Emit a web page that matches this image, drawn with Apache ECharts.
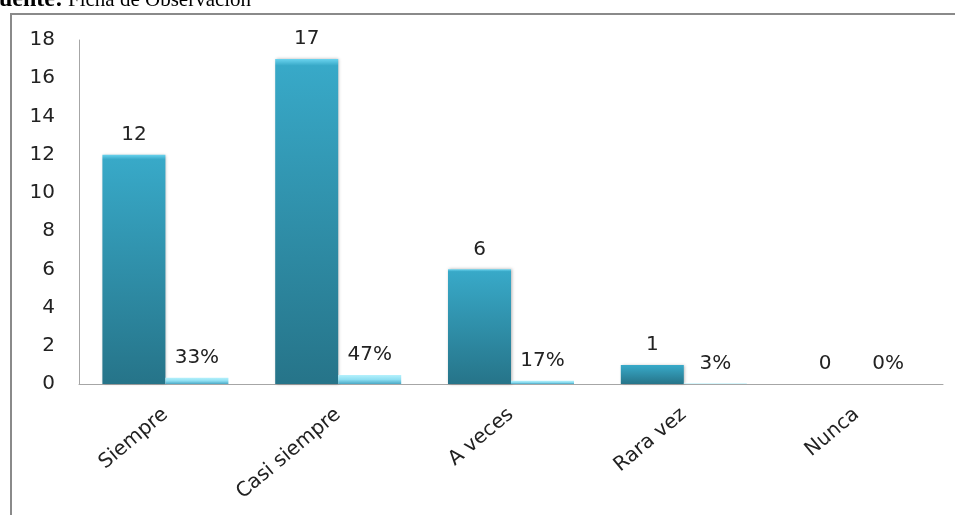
<!DOCTYPE html>
<html>
<head>
<meta charset="utf-8">
<script src="https://cdn.jsdelivr.net/npm/echarts@6/dist/echarts.min.js"></script>
<style>html,body{margin:0;padding:0;background:#fff}#c{width:955px;height:515px}</style>
</head>
<body>
<div id="c"></div>
<script>
const categories = ['Siempre', 'Casi siempre', 'A veces', 'Rara vez', 'Nunca'];
const frecuencia = [12, 17, 6, 1, 0];
const porcentaje = [0.33, 0.47, 0.17, 0.03, 0];
const yTicks = { min: 0, max: 18, interval: 2 };

const chart = echarts.init(document.getElementById('c'));
const font = '"DejaVu Sans", "Open Sans", sans-serif';
const serif = '"Liberation Serif", "Times New Roman", serif';
chart.setOption({
  animation: false,
  backgroundColor: '#fff',
  graphic: [
    { type: 'rect', shape: { x: 11, y: 14, width: 980, height: 540 }, style: { fill: 'none', stroke: '#8a8a8a', lineWidth: 2 }, z: 100 },
    { type: 'text', x: 63, y: 12, style: { text: 'Fuente:', font: 'bold 24px ' + serif, fill: '#000', align: 'right', verticalAlign: 'bottom' }, z: 100 },
    { type: 'text', x: 68, y: 11, style: { text: 'Ficha de Observación', font: '21px ' + serif, fill: '#000', align: 'left', verticalAlign: 'bottom' }, z: 100 }
  ],
  grid: { left: 79, right: 12, top: 40, bottom: 131 },
  xAxis: {
    type: 'category', data: categories,
    axisLine: { lineStyle: { color: '#a6a6a6', width: 1 } },
    axisTick: { show: false },
    axisLabel: { rotate: 40, margin: 28, fontSize: 20, color: '#222', fontFamily: font, interval: 0 }
  },
  yAxis: {
    type: 'value', min: yTicks.min, max: yTicks.max, interval: yTicks.interval,
    axisLine: { show: true, lineStyle: { color: '#a6a6a6', width: 1 } },
    axisTick: { show: false },
    splitLine: { show: false },
    axisLabel: { fontSize: 20, color: '#222', fontFamily: font, margin: 24 }
  },
  series: [
    {
      name: 'Frecuencia', type: 'bar', data: frecuencia, barWidth: 63, barGap: '0%',
      itemStyle: {
        color: new echarts.graphic.LinearGradient(0, 0, 0, 1, [
          { offset: 0, color: '#6ad3ee' }, { offset: 0.02, color: '#38a9c8' },
          { offset: 1, color: '#267489' }
        ]),
        borderWidth: 0,
        shadowBlur: 3, shadowColor: 'rgba(0,0,0,0.3)', shadowOffsetX: 1
      },
      label: { show: true, position: 'top', distance: 10, fontSize: 20, color: '#222', fontFamily: font }
    },
    {
      name: 'Porcentaje', type: 'bar', data: porcentaje, barWidth: 63,
      itemStyle: {
        color: new echarts.graphic.LinearGradient(0, 0, 0, 1, [
          { offset: 0, color: '#b5f1fc' }, { offset: 0.5, color: '#8fdff2' }, { offset: 1, color: '#4aa9c6' }
        ]),
        borderWidth: 0
      },
      label: { show: true, position: 'top', distance: 10, fontSize: 20, color: '#222', fontFamily: font,
        formatter: p => Math.round(p.value * 100) + '%' }
    }
  ]
});
</script>
</body>
</html>
